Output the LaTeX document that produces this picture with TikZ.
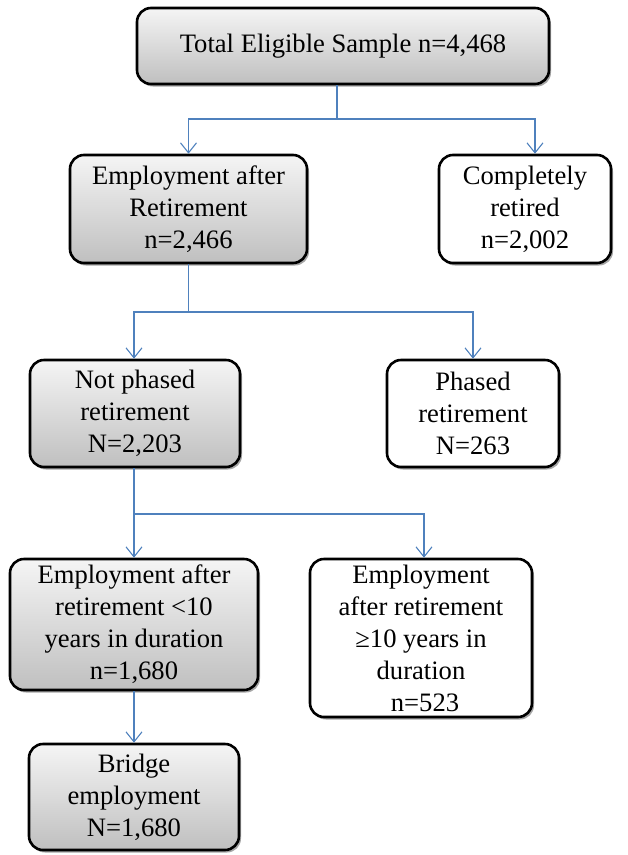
\documentclass[tikz,border=0pt]{standalone}
\usepackage{fontspec}
\setmainfont{Liberation Serif}
\usetikzlibrary{arrows.meta,shadows}
\definecolor{linkblue}{HTML}{4F81BD}
\tikzset{
  basebox/.style={draw=black, line width=2.6pt, rounded corners=14pt, align=center,
    inner sep=0pt, font=\fontsize{26.6}{32}\selectfont,
    drop shadow={shadow xshift=2pt, shadow yshift=-2.5pt, opacity=0.35, fill=black}},
  greybox/.style={basebox, top color=gray!8, bottom color=gray!50},
  whitebox/.style={basebox, fill=white},
  link/.style={draw=linkblue, line width=1.1pt},
  arr/.style={link, -{Straight Barb[length=10pt,width=16pt,line width=1.1pt]}}
}
\begin{document}
\begin{tikzpicture}[x=1pt,y=-1pt]
\useasboundingbox (0,0) rectangle (628,855);
\node[greybox, minimum width=412pt, minimum height=76pt] (top) at (343,46) {Total Eligible Sample n=4,468};
\node[greybox, minimum width=237pt, minimum height=108pt] (emp) at (188.5,209) {Employment after\\Retirement\\n=2,466};
\node[whitebox, minimum width=172pt, minimum height=108pt] (comp) at (525,209) {Completely\\retired\\n=2,002};
\node[greybox, minimum width=210pt, minimum height=107pt] (notph) at (135,413.5) {Not phased\\retirement\\N=2,203};
\node[whitebox, minimum width=172pt, minimum height=107pt] (phased) at (473,413.5) {Phased\\retirement\\N=263};
\node[greybox, minimum width=248pt, minimum height=131pt] (lt) at (134,624.5) {Employment after\\retirement <10\\years in duration\\n=1,680};
\node[whitebox, minimum width=222pt, minimum height=158pt] (ge) at (421,638) {Employment\\after retirement\\≥10 years in\\duration\\\hspace*{8pt}n=523};
\node[greybox, minimum width=210pt, minimum height=106pt] (bridge) at (134,797) {Bridge\\employment\\N=1,680};

\coordinate (j1) at (337,119);
\draw[link] ([xshift=-6pt]top.south) -- (j1);
\draw[arr] (j1) -| (emp.north);
\draw[arr] (j1) -| ([xshift=10pt]comp.north);

\coordinate (j2) at (188.5,312);
\draw[link] (emp.south) -- (j2);
\draw[arr] (j2) -| ([xshift=-1pt]notph.north);
\draw[arr] (j2) -| (phased.north);

\coordinate (j3) at (134,514);
\draw[link] ([xshift=-1pt]notph.south) -- (j3);
\draw[arr] (j3) -- (lt.north);
\draw[arr] (j3) -| ([xshift=3pt]ge.north);

\draw[arr] (lt.south) -- (bridge.north);
\end{tikzpicture}
\end{document}
